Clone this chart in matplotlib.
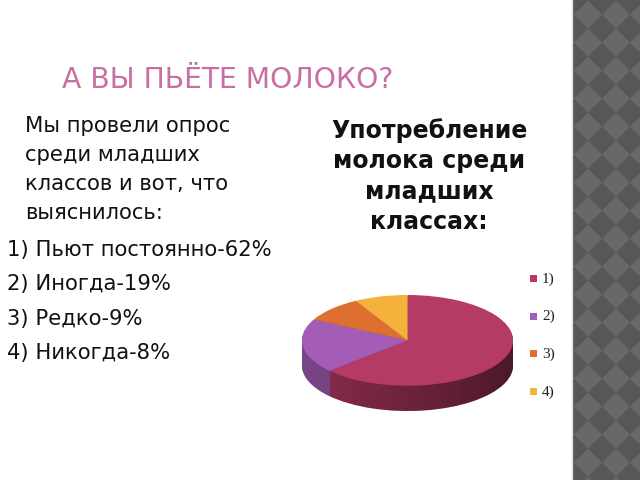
import numpy as np
import matplotlib
matplotlib.use("Agg")
import matplotlib.pyplot as plt
from matplotlib.colors import to_rgb
from matplotlib.path import Path
from matplotlib.patches import PathPatch

# survey data
labels = ["1)", "2)", "3)", "4)"]
shares = [62, 19, 9, 8]
answers = ["Пьют постоянно", "Иногда", "Редко", "Никогда"]

title = "А ВЫ ПЬЁТЕ МОЛОКО?"
intro = ["Мы провели опрос", "среди младших", "классов и вот, что", "выяснилось:"]
chart_title = "Употребление\nмолока среди\nмладших\nклассах:"

top_colors = ["#b63a66", "#a45db6", "#df6f30", "#f4b13b"]


def darker(c, f):
    r, g, b = to_rgb(c)
    return (r * f, g * f, b * f)


fig = plt.figure(figsize=(6.4, 4.8), dpi=100)
fig.patch.set_facecolor("white")

# background axes in pixel units
bg = fig.add_axes([0, 0, 1, 1])
bg.axis("off")

# checkered band on the right
xx, yy = np.meshgrid(np.arange(572, 640), np.arange(0, 480))
s = 28.0
pat = (np.floor((xx + yy) / s) + np.floor((xx - yy) / s)) % 2
band = np.where(pat == 0, 0.34, 0.41)
bg.imshow(band, cmap="gray", vmin=0, vmax=1, extent=(572, 640, 480, 0),
          aspect="auto", interpolation="bilinear", zorder=0)
bg.axvline(571.5, color="#dcdcdc", lw=1)
bg.set_xlim(0, 640)
bg.set_ylim(480, 0)

bg.text(62, 80, title, fontsize=20.3, color="#c96ea4", va="center", ha="left",
        family="DejaVu Sans")

body_kw = dict(fontsize=15.2, color="#111111", va="center", ha="left",
               family="DejaVu Sans")
for i, line in enumerate(intro):
    bg.text(25, 126 + i * 29, line, **body_kw)
for i, (ans, v) in enumerate(zip(answers, shares)):
    bg.text(7, 250 + i * 34.3, f"{i + 1}) {ans}-{v}%", **body_kw)

bg.text(429, 176, chart_title, fontsize=17, fontweight="bold", color="#111111",
        ha="center", va="center", linespacing=1.32, family="DejaVu Sans")

# legend
for i, lab in enumerate(labels):
    y = 279 + i * 37.7
    bg.add_patch(plt.Rectangle((530, y - 4), 7, 7, color=top_colors[i], lw=0))
    bg.text(542, y, lab, fontsize=11, family="Liberation Serif", va="center",
            ha="left", color="#222222")

# 3D-looking pie: stack of squashed pies
depth = 0.56
ax = fig.add_axes([302 / 640, 1 - 411 / 480, 211 / 640, 116 / 480])
ax.axis("off")

steps = 30
for k in range(steps, 0, -1):
    d = depth * k / steps
    ax.pie(shares, startangle=90, counterclock=False, radius=1,
           center=(0, -d), colors=[darker(c, 0.74) for c in top_colors],
           wedgeprops=dict(linewidth=0), frame=False)

# side shading: darker towards the right
t = np.linspace(np.pi, 2 * np.pi, 100)
rim = np.column_stack([np.cos(t), np.sin(t)])
low = np.column_stack([np.cos(t[::-1]), np.sin(t[::-1]) - depth])
verts = np.vstack([rim, low, rim[:1]])
side = Path(verts, closed=True)
clip = PathPatch(side, transform=ax.transData, facecolor="none", lw=0)
ax.add_patch(clip)
shade = np.zeros((2, 200, 4))
shade[..., 3] = np.linspace(0.0, 0.5, 200) ** 1.2
img = ax.imshow(shade, extent=(-1, 1, -1 - depth, 0), aspect="auto", zorder=3)
img.set_clip_path(clip)

ax.pie(shares, startangle=90, counterclock=False, radius=1, center=(0, 0),
       colors=top_colors, wedgeprops=dict(linewidth=0, zorder=4), frame=False)
ax.set_aspect("auto")
ax.set_xlim(-1.0, 1.0)
ax.set_ylim(-1 - depth, 1.0)

fig.savefig("out.png", dpi=100)
